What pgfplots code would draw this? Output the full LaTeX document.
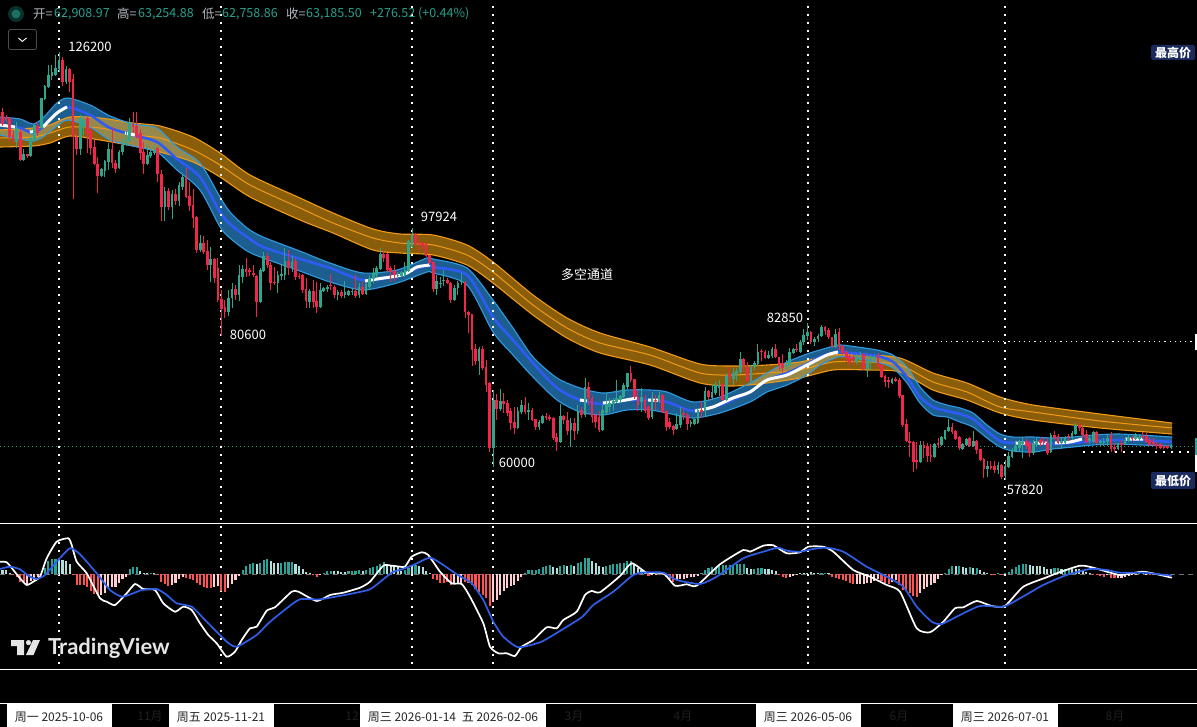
\documentclass[border=0pt]{standalone}
\usepackage{pgfplots}
\pgfplotsset{compat=1.18}
\usepackage{pgfplotstable}
\usepackage{fontspec}
\setmainfont{Noto Sans CJK SC}
\newfontfamily\wm{Lato}
\definecolor{cG}{HTML}{2FA58C}
\definecolor{cR}{HTML}{F0264A}
\definecolor{hG}{HTML}{26A69A}
\definecolor{hL}{HTML}{B2DFDB}
\definecolor{hR}{HTML}{FF5252}
\definecolor{hP}{HTML}{FFCDD2}
\definecolor{gold}{HTML}{FDAB14}
\definecolor{goldline}{HTML}{F09A18}
\definecolor{bluefill}{HTML}{1C5E8F}
\definecolor{blueedge}{HTML}{2E9BE0}
\definecolor{bluemid}{HTML}{2F5BF5}
\definecolor{macdblue}{HTML}{2F5FE8}
\definecolor{navy}{HTML}{1A2A5E}
\definecolor{lab}{HTML}{B2B5BE}
\definecolor{val}{HTML}{26A08E}
\definecolor{dk}{HTML}{202020}

\pgfplotstableread[row sep=\\]{
x t m b\\
0 117 125 135\\ 20 119 128 139\\ 33 124 133 141\\ 43 118 127 137\\ 57 103 113 126\\ 68 98 107 120\\
90 105 115 127\\ 110 116 128 140\\ 133 124 135 146\\ 157 128 142 152\\ 177 147 159 170\\ 200 163 177 190\\
220 197 212 227\\ 230 212 224 238\\ 247 228 237 251\\ 263 237 247 258\\ 297 250 258 270\\ 330 263 268 282\\
363 273 280 290\\ 397 270 276 283\\ 427 258 265 272\\ 433 259 267 273\\ 467 268 275 285\\ 493 300 317 332\\
513 328 340 355\\ 533 357 363 377\\ 557 378 388 400\\ 580 388 400 412\\ 603 393 404 415\\ 627 390 400 410\\
650 390 400 410\\ 667 392 402 413\\ 693 402 411 418\\ 720 397 405 413\\ 750 383 392 402\\ 767 373 380 392\\
787 362 373 385\\ 807 354 364 375\\ 820 350 357 365\\ 838 345 352 357\\ 850 346 353 357\\ 877 350 356 362\\
893 355 362 368\\ 907 367 377 383\\ 920 387 397 403\\ 933 400 407 415\\ 947 405 411 417\\ 960 408 414 422\\
973 413 419 427\\ 987 425 431 438\\ 1000 434 441 447\\ 1013 437 443 451\\ 1033 437 443 452\\ 1053 438 444 449\\
1073 437 443 447\\ 1093 435 441 445\\ 1117 434 440 444\\ 1140 435 440 445\\ 1172 437 442 446\\
}\blueband

\pgfplotstableread[row sep=\\]{
x t m b\\
0 130 138 147\\ 33 128 137 146\\ 50 125 133 143\\ 70 117 127 136\\ 100 118 128 140\\ 133 123 135 146\\
160 126 138 152\\ 193 137 150 162\\ 220 153 165 177\\ 250 175 185 197\\ 300 198 208 220\\ 333 213 223 233\\
373 229 238 250\\ 400 234 243 253\\ 433 235 245 255\\ 467 245 255 265\\ 493 262 272 283\\ 533 295 305 315\\
567 318 328 338\\ 600 333 343 353\\ 650 347 355 365\\ 700 364 373 383\\ 733 366 375 386\\ 767 365 373 383\\
800 362 370 378\\ 833 355 362 370\\ 867 355 362 370\\ 900 358 365 372\\ 933 373 382 390\\ 967 383 392 400\\
1000 397 407 413\\ 1033 405 412 420\\ 1100 414 421 428\\ 1172 423 428 434\\
}\goldband

% candles: i = days from 2025-10-06; h,t,b,l = wick top, body top, body bottom, wick low
\pgfplotstableread[row sep=\\]{
i h t b l\\
-12 122 128 142 148\\ -10 149 154 160 161\\ -8 137 138 156 157\\ -7 124 125 141 142\\ -5 98 98 128 130\\
-4 85 86 99 100\\ -3 65 75 87 88\\ -2 65 72 76 80\\ -1 55 68 75 76\\ 0 52 60 69 72\\ 2 66 69 82 84\\
6 115 118 149 155\\ 7 116 120 127 135\\ 12 168 169 176 177\\ 13 160 161 171 177\\ 14 143 149 162 170\\
17 150 152 168 169\\ 18 139 145 152 155\\ 19 130 138 145 146\\ 20 118 123 141 142\\ 25 145 155 164 165\\
26 150 152 156 158\\ 27 145 150 153 155\\ 30 187 191 207 221\\ 32 190 194 207 219\\ 34 182 185 201 206\\
35 174 177 187 190\\ 40 235 243 250 252\\ 43 247 259 265 282\\ 48 290 298 312 316\\ 49 283 289 298 308\\
51 265 275 295 301\\ 52 265 269 277 283\\ 57 268 270 302 303\\ 58 252 256 271 272\\ 62 271 275 283 293\\
63 264 274 276 280\\ 64 248 261 275 280\\ 66 256 262 267 272\\ 71 289 291 302 308\\ 74 283 290 307 308\\
75 287 288 291 292\\ 76 285 287 289 292\\ 79 290 292 295 300\\ 81 281 292 295 298\\ 82 290 291 295 296\\
83 289 291 292 295\\ 85 283 287 295 298\\ 87 283 284 294 295\\ 88 275 278 287 290\\ 89 268 273 279 283\\
90 266 268 275 277\\ 91 248 254 269 270\\ 96 272 275 276 277\\ 97 271 272 276 277\\ 98 262 270 275 277\\
99 240 241 271 272\\ 100 228 234 247 248\\ 107 275 281 289 295\\ 108 277 283 284 288\\ 109 270 280 281 286\\
112 285 288 300 301\\ 113 281 283 288 295\\ 114 273 281 282 285\\ 119 347 349 361 375\\ 123 390 400 448 467\\
125 389 401 409 411\\ 130 407 411 428 429\\ 131 400 405 412 414\\ 133 403 410 411 420\\ 136 420 422 427 430\\
137 415 416 423 424\\ 142 404 416 442 443\\ 145 418 423 430 447\\ 147 405 412 431 434\\ 149 378 387 415 417\\
154 405 410 430 431\\ 155 393 404 413 415\\ 156 398 403 407 412\\ 157 398 401 404 411\\ 158 380 398 402 403\\
159 395 396 400 403\\ 160 383 385 397 398\\ 161 373 373 387 389\\ 165 388 397 402 412\\ 168 392 398 417 419\\
170 392 395 401 403\\ 175 413 424 429 430\\ 176 407 415 425 428\\ 179 420 422 424 427\\ 180 418 419 424 425\\
181 408 410 423 424\\ 183 387 391 411 417\\ 185 384 392 398 400\\ 186 382 385 393 395\\ 187 380 385 388 396\\
189 373 376 400 401\\ 191 368 373 379 385\\ 192 368 371 374 381\\ 193 352 359 372 374\\ 196 365 367 381 382\\
197 361 363 367 370\\ 198 344 352 364 366\\ 201 351 355 358 359\\ 202 347 349 356 358\\ 206 360 364 367 370\\
207 348 352 365 366\\ 208 348 349 353 354\\ 210 340 342 352 353\\ 211 329 335 342 345\\ 212 323 332 336 340\\
214 337 339 342 346\\ 215 334 336 339 342\\ 216 325 327 336 337\\ 220 329 334 347 348\\ 226 354 356 362 364\\
227 352 357 360 362\\ 229 355 359 369 377\\ 230 355 358 360 370\\ 231 355 357 359 363\\ 236 378 379 383 384\\
244 441 445 462 463\\ 248 443 444 457 458\\ 250 436 437 445 446\\ 251 430 430 439 440\\ 252 419 427 431 432\\
256 443 444 449 450\\ 257 438 439 445 446\\ 259 431 441 446 447\\ 263 461 466 469 477\\ 266 462 465 470 474\\
268 460 466 476 480\\ 269 452 456 467 468\\ 270 448 450 457 458\\ 271 442 446 451 452\\ 272 440 442 448 452\\
273 437 442 444 458\\ 276 440 443 453 455\\ 277 438 441 445 447\\ 281 433 435 452 453\\ 284 438 441 442 449\\
285 436 437 443 444\\ 287 431 433 438 440\\ 288 423 425 434 435\\ 292 435 438 441 444\\ 293 431 432 442 443\\
295 440 441 443 447\\ 296 438 441 443 446\\ 297 435 438 442 446\\ 300 443 444 449 450\\ 302 438 440 444 445\\
303 435 437 441 442\\ 305 433 434 439 440\\ 306 434 437 438 441\\ 315 444 446 448 449\\
}\candUp

\pgfplotstableread[row sep=\\]{
i h t b l\\
-16 108 112 124 126\\ -15 115 117 120 122\\ -14 117 118 137 141\\ -13 130 135 140 144\\ -11 129 132 160 161\\
-9 154 154 156 158\\ -6 122 126 133 136\\ 1 57 60 82 86\\ 3 68 69 82 92\\ 4 74 79 137 199\\ 5 130 137 149 155\\
8 117 118 133 153\\ 9 128 131 148 155\\ 10 140 147 164 165\\ 11 157 164 176 193\\ 15 127 149 163 168\\
16 160 163 169 173\\ 21 112 124 127 133\\ 22 112 126 137 138\\ 23 129 133 153 160\\ 24 142 152 164 174\\
28 147 148 174 182\\ 29 170 174 207 221\\ 31 188 191 207 210\\ 33 189 194 201 205\\ 36 168 177 197 198\\
37 182 196 206 211\\ 38 189 205 218 228\\ 39 216 217 250 253\\ 41 236 243 252 254\\ 42 240 251 265 270\\
44 258 259 278 283\\ 45 258 268 300 302\\ 46 290 299 309 336\\ 47 300 307 312 318\\ 50 285 289 295 300\\
53 258 269 272 277\\ 54 268 270 272 276\\ 55 265 273 275 277\\ 56 275 276 302 317\\ 59 253 256 265 268\\
60 262 265 283 290\\ 61 267 282 283 285\\ 65 250 261 268 275\\ 67 258 261 277 280\\ 68 273 276 277 279\\
69 274 275 290 293\\ 70 278 289 301 308\\ 72 280 291 302 308\\ 73 282 301 307 313\\ 77 274 285 286 290\\
78 285 287 295 298\\ 80 290 292 296 298\\ 84 275 291 296 298\\ 86 282 287 294 295\\ 92 250 254 258 262\\
93 253 254 270 272\\ 94 266 268 272 282\\ 95 265 271 275 281\\ 101 233 234 244 246\\ 102 241 243 244 252\\
103 242 243 246 250\\ 104 243 243 256 257\\ 105 255 255 263 265\\ 106 261 262 289 292\\ 110 278 280 283 284\\
111 282 283 300 303\\ 115 281 282 312 318\\ 116 311 312 315 333\\ 117 314 314 350 366\\ 118 344 349 361 365\\
120 346 349 368 370\\ 121 360 367 385 392\\ 122 382 383 448 452\\ 124 394 400 409 420\\ 126 393 401 404 413\\
127 400 403 413 416\\ 128 408 411 423 430\\ 129 407 422 428 434\\ 132 397 405 412 414\\ 134 408 410 420 421\\
135 419 419 427 430\\ 138 413 416 417 420\\ 139 415 417 419 421\\ 140 417 418 438 440\\ 141 433 437 442 451\\
143 415 416 420 424\\ 144 412 420 431 435\\ 146 418 423 431 440\\ 148 407 410 415 418\\ 150 382 387 398 405\\
151 396 398 417 423\\ 152 414 415 422 428\\ 153 411 417 430 432\\ 162 366 373 380 382\\ 163 379 379 397 399\\
164 390 397 405 411\\ 166 395 400 411 413\\ 167 405 407 418 420\\ 169 395 400 401 410\\ 171 394 395 412 413\\
172 410 411 427 431\\ 173 418 422 427 429\\ 174 425 426 430 435\\ 177 408 413 414 420\\ 178 413 415 424 430\\
182 401 410 412 418\\ 184 390 391 397 400\\ 188 383 384 400 401\\ 190 367 374 377 382\\ 194 358 359 365 372\\
195 362 367 381 382\\ 199 349 351 352 361\\ 200 350 352 358 359\\ 203 344 349 357 358\\ 204 357 357 365 370\\
205 354 363 368 372\\ 209 344 349 350 352\\ 213 331 332 342 344\\ 217 326 327 331 335\\ 218 328 330 337 339\\
219 337 337 347 348\\ 221 328 332 347 350\\ 222 345 346 353 355\\ 223 350 352 358 362\\ 224 354 356 362 365\\
225 355 357 359 365\\ 228 353 354 369 370\\ 232 353 355 367 368\\ 233 364 365 377 378\\ 234 375 376 382 387\\
235 377 380 381 388\\ 237 377 379 381 382\\ 238 378 380 396 398\\ 239 395 395 425 427\\ 240 419 424 441 442\\
241 432 441 443 457\\ 242 441 442 462 472\\ 243 442 460 462 469\\ 245 441 445 448 458\\ 246 443 446 456 462\\
247 444 455 457 462\\ 249 438 443 445 448\\ 253 423 427 432 434\\ 254 430 431 439 440\\ 255 436 437 448 450\\
258 437 438 446 447\\ 260 440 441 450 454\\ 261 449 449 460 461\\ 262 458 459 469 478\\ 264 461 466 467 470\\
265 461 466 470 473\\ 267 464 465 477 479\\ 274 439 441 446 449\\ 275 441 443 453 457\\ 278 437 440 443 446\\
279 438 441 443 445\\ 280 438 443 453 455\\ 282 431 435 438 440\\ 283 434 436 443 444\\ 286 434 436 437 441\\
289 422 425 428 431\\ 290 427 428 435 438\\ 291 430 434 442 444\\ 294 431 432 443 444\\ 298 432 435 449 452\\
299 443 447 448 452\\ 301 440 443 444 452\\ 304 436 437 439 441\\ 307 432 436 437 439\\ 308 433 436 442 443\\
309 438 440 445 446\\ 310 438 442 444 446\\ 311 442 444 446 449\\ 312 443 444 448 449\\ 313 445 446 447 449\\
314 445 446 448 449\\
}\candDown

\begin{document}
\begin{tikzpicture}
\fill[black] (0,0) rectangle (1197pt,727pt);
\useasboundingbox (0,0) rectangle (1197pt,727pt);
\begin{axis}[
  at={(0pt,0pt)},anchor=south west,
  width=1197pt,height=727pt,scale only axis,
  xmin=0,xmax=1197,ymin=0,ymax=727,y dir=reverse,
  ticks=none,axis line style={draw=none},
  unbounded coords=jump,
  cycle list={{black}},
  every axis plot/.append style={forget plot},
  wk/.style={draw=none,mark=none,error bars/.cd,y dir=both,y explicit,error mark=none,
     error bar style={solid,line width=0.9pt,draw=#1}},
  bd/.style={draw=none,mark=none,error bars/.cd,y dir=both,y explicit,error mark=none,
     error bar style={solid,line width=2.7pt,draw=#1}},
  sm/.style={smooth,tension=0.45},
]
% horizontal guide lines
\addplot[draw=val,line width=0.7pt,dash pattern=on 1pt off 3pt] coordinates {(0,446)(1197,446)};
\addplot[draw=white,line width=0.8pt] coordinates {(0,523)(1197,523)};
\addplot[draw=white,line width=0.8pt] coordinates {(0,669)(1197,669)};
% bands
\addplot[sm,fill=bluefill,draw=none] coordinates {
(0,117)(20,119)(33,124)(43,118)(57,103)(68,98)(90,105)(110,116)(133,124)(157,128)(177,147)(200,163)(220,197)(230,212)(247,228)(263,237)(297,250)(330,263)(363,273)(397,270)(427,258)(433,259)(467,268)(493,300)(513,328)(533,357)(557,378)(580,388)(603,393)(627,390)(650,390)(667,392)(693,402)(720,397)(750,383)(767,373)(787,362)(807,354)(820,350)(838,345)(850,346)(877,350)(893,355)(907,367)(920,387)(933,400)(947,405)(960,408)(973,413)(987,425)(1000,434)(1013,437)(1033,437)(1053,438)(1073,437)(1093,435)(1117,434)(1140,435)(1172,437)(1172,437)(1172,437)
(1172,446)(1172,446)(1172,446)(1140,445)(1117,444)(1093,445)(1073,447)(1053,449)(1033,452)(1013,451)(1000,447)(987,438)(973,427)(960,422)(947,417)(933,415)(920,403)(907,383)(893,368)(877,362)(850,357)(838,357)(820,365)(807,375)(787,385)(767,392)(750,402)(720,413)(693,418)(667,413)(650,410)(627,410)(603,415)(580,412)(557,400)(533,377)(513,355)(493,332)(467,285)(433,273)(427,272)(397,283)(363,290)(330,282)(297,270)(263,258)(247,251)(230,238)(220,227)(200,190)(177,170)(157,152)(133,146)(110,140)(90,127)(68,120)(57,126)(43,137)(33,141)(20,139)(0,135)} -- cycle;
\addplot[sm,fill=gold,fill opacity=0.55,draw=none] coordinates {
(0,130)(33,128)(50,125)(70,117)(100,118)(133,123)(160,126)(193,137)(220,153)(250,175)(300,198)(333,213)(373,229)(400,234)(433,235)(467,245)(493,262)(533,295)(567,318)(600,333)(650,347)(700,364)(733,366)(767,365)(800,362)(833,355)(867,355)(900,358)(933,373)(967,383)(1000,397)(1033,405)(1100,414)(1172,423)(1172,423)(1172,423)
(1172,434)(1172,434)(1172,434)(1100,428)(1033,420)(1000,413)(967,400)(933,390)(900,372)(867,370)(833,370)(800,378)(767,383)(733,386)(700,383)(650,365)(600,353)(567,338)(533,315)(493,283)(467,265)(433,255)(400,253)(373,250)(333,233)(300,220)(250,197)(220,177)(193,162)(160,152)(133,146)(100,140)(70,136)(50,143)(33,146)(0,147)} -- cycle;
\addplot[sm,draw=goldline,line width=1.1pt] table[x=x,y=t]{\goldband};
\addplot[sm,draw=goldline,line width=1pt] table[x=x,y=m]{\goldband};
\addplot[sm,draw=goldline,line width=1.1pt] table[x=x,y=b]{\goldband};
\addplot[sm,draw=blueedge,line width=1.1pt] table[x=x,y=t]{\blueband};
\addplot[sm,draw=blueedge,line width=1.1pt] table[x=x,y=b]{\blueband};
\addplot[sm,draw=bluemid,line width=2.6pt] table[x=x,y=m]{\blueband};
\addplot[sm,draw=white,line width=3pt] coordinates {
 (0,125)(15,127)(15,nan)
 (30,132)(38,131)(38,nan)
 (43,127)(57,113)(67,107)(67,nan)
 (125,133)(135,135)(135,nan)
 (365,281)(377,279)(397,276)(407,273)(417,267)(430,265)(430,nan)
 (580,400)(587,401)(587,nan)
 (603,403)(620,401)(637,398)(637,nan)
 (648,400)(658,400)(658,nan)
 (695,411)(713,407)(733,398)(750,392)(767,380)(787,375)(807,365)(827,355)(838,352)(838,nan)
 (1015,443)(1025,443)(1025,nan)
 (1033,443)(1047,443)(1047,nan)
 (1055,443)(1070,442)(1082,439)(1082,nan)
 (1125,439)(1143,439)
};
% vertical dotted date lines
\addplot[draw=white,line width=1.8pt,dash pattern=on 2pt off 6pt] coordinates {(59,6)(59,669)};
\addplot[draw=white,line width=1.8pt,dash pattern=on 2pt off 6pt] coordinates {(221,6)(221,669)};
\addplot[draw=white,line width=1.8pt,dash pattern=on 2pt off 6pt] coordinates {(412,6)(412,669)};
\addplot[draw=white,line width=1.8pt,dash pattern=on 2pt off 6pt] coordinates {(493,6)(493,669)};
\addplot[draw=white,line width=1.8pt,dash pattern=on 2pt off 6pt] coordinates {(808,6)(808,669)};
\addplot[draw=white,line width=1.8pt,dash pattern=on 2pt off 6pt] coordinates {(1005,6)(1005,669)};
\addplot[draw=white,line width=1pt,dash pattern=on 1.2pt off 4pt] coordinates {(842,342)(1197,342)};
\addplot[draw=white,line width=1.8pt,dash pattern=on 2pt off 6pt] coordinates {(1083,452)(1192,452)};
% candles
\addplot[wk=cG] table[x expr=59+3.53*\thisrow{i},y expr=(\thisrow{h}+\thisrow{l})/2,y error expr=(\thisrow{l}-\thisrow{h})/2]{\candUp};
\addplot[wk=cR] table[x expr=59+3.53*\thisrow{i},y expr=(\thisrow{h}+\thisrow{l})/2,y error expr=(\thisrow{l}-\thisrow{h})/2]{\candDown};
\addplot[bd=cG] table[x expr=59+3.53*\thisrow{i},y expr=(\thisrow{t}+\thisrow{b})/2,y error expr=(\thisrow{b}-\thisrow{t})/2]{\candUp};
\addplot[bd=cR] table[x expr=59+3.53*\thisrow{i},y expr=(\thisrow{t}+\thisrow{b})/2,y error expr=(\thisrow{b}-\thisrow{t})/2]{\candDown};

% annotations
\def\lbl#1#2#3{\node[text=white,font=\fontsize{13}{15}\selectfont,inner sep=0pt] at (axis cs:#1,#2) {#3};}
\lbl{90}{47}{126200}
\lbl{248}{335}{80600}
\lbl{439}{217}{97924}
\lbl{517}{463}{60000}
\lbl{785}{318}{82850}
\lbl{1025}{490}{57820}
\lbl{587}{275}{多空通道}
\fill[navy,rounded corners=2pt] (axis cs:1151,45) rectangle (axis cs:1195,60);
\node[text=white,font=\fontsize{12}{14}\selectfont\bfseries,inner sep=0pt] at (axis cs:1173,52.5) {最高价};
\fill[navy,rounded corners=2pt] (axis cs:1151,472) rectangle (axis cs:1195,489);
\node[text=white,font=\fontsize{12}{14}\selectfont\bfseries,inner sep=0pt] at (axis cs:1173,480.5) {最低价};
\fill[white] (axis cs:1195,334) rectangle (axis cs:1197,350);
\fill[hG] (axis cs:1195,438) rectangle (axis cs:1197,455);
\fill[white] (axis cs:1195,455) rectangle (axis cs:1197,472);

% header
\fill[black!70!val] (axis cs:16,14) circle[radius=8pt];
\fill[val!70!black] (axis cs:16,14) circle[radius=4.5pt];
\def\hd#1#2#3{\node[anchor=west,text=#3,font=\fontsize{12.5}{15}\selectfont,inner sep=0pt] at (axis cs:#1,14) {#2};}
\hd{33}{开=}{lab}\hd{54}{62,908.97}{val}
\hd{117}{高=}{lab}\hd{138}{63,254.88}{val}
\hd{202}{低=}{lab}\hd{222}{62,758.86}{val}
\hd{286}{收=}{lab}\hd{306}{63,185.50}{val}
\hd{370}{+276.52 (+0.44\%)}{val}
\draw[black!70!white,rounded corners=2pt,line width=0.8pt] (axis cs:8.5,29.5) rectangle (axis cs:36.5,49.5);
\draw[white,line width=0.9pt] (axis cs:18.5,38) -- (axis cs:22.3,41.5) -- (axis cs:26.5,38);

% time axis
\node[text=dk,font=\fontsize{12}{14}\selectfont,inner sep=0pt] at (axis cs:150,716) {11月};
\node[anchor=east,text=dk,font=\fontsize{12}{14}\selectfont,inner sep=0pt] at (axis cs:359,716) {12};
\node[text=dk,font=\fontsize{12}{14}\selectfont,inner sep=0pt] at (axis cs:574,716) {3月};
\node[text=dk,font=\fontsize{12}{14}\selectfont,inner sep=0pt] at (axis cs:683,716) {4月};
\node[text=dk,font=\fontsize{12}{14}\selectfont,inner sep=0pt] at (axis cs:899,716) {6月};
\node[text=dk,font=\fontsize{12}{14}\selectfont,inner sep=0pt] at (axis cs:1115,716) {8月};
\addplot[draw=white,line width=0.8pt] coordinates {(0,703)(1197,703)};
\fill[white] (axis cs:7,703) rectangle (axis cs:112,727);
\fill[white] (axis cs:169,703) rectangle (axis cs:274,727);
\fill[white] (axis cs:360,703) rectangle (axis cs:546,727);
\fill[white] (axis cs:756,703) rectangle (axis cs:861,727);
\fill[white] (axis cs:953,703) rectangle (axis cs:1058,727);
\def\tl#1#2{\node[text=black!85,font=\fontsize{12}{14}\selectfont,inner sep=0pt] at (axis cs:#1,717) {#2};}
\tl{59}{周一 2025-10-06}
\tl{221}{周五 2025-11-21}
\tl{412}{周三 2026-01-14}
\tl{500}{五 2026-02-06}
\tl{808}{周三 2026-05-06}
\tl{1005}{周三 2026-07-01}

% watermark
\fill[white!90!black] (axis cs:11,640)--(axis cs:24,640)--(axis cs:24,655)--(axis cs:17,655)--(axis cs:17,646)--(axis cs:11,646)--cycle;
\fill[white!90!black] (axis cs:28.5,642.6) circle[radius=2.6pt];
\fill[white!90!black] (axis cs:33,640)--(axis cs:40,640)--(axis cs:33.5,655)--(axis cs:26,655)--cycle;
\node[anchor=west,text=white!90!black,font=\wm\bfseries\fontsize{22}{26}\selectfont,inner sep=0pt] at (axis cs:48,648) {TradingView};
\end{axis}

% MACD pane: y is the distance from the zero line
\begin{axis}[
  at={(0pt,58pt)},anchor=south west,
  width=1197pt,height=145pt,scale only axis,
  xmin=0,xmax=1197,ymin=-95,ymax=50,
  ticks=none,axis line style={draw=none},
  every axis plot/.append style={forget plot},
  cycle list={{black}},
  hst/.style={ycomb,line width=2.1pt,color=#1,mark=none,x filter/.expression={59+3.53*x}},
  sm/.style={smooth,tension=0.35},
]
\addplot[draw=black!55,line width=0.8pt,dash pattern=on 5pt off 4pt] coordinates {(0,0)(1197,0)};
\addplot[hst=hG] coordinates {(-4,6)(-3,13)(-2,15)(-1,15)(20,5)(21,7)(22,7)(26,1)
 (52,4)(53,8)(54,10)(55,11)(57,11)(58,14)(59,15)(63,11)(64,12)(65,12)(66,12)(75,1)(76,3)(77,3)(82,3)(83,3)(84,3)(85,4)(87,4)(88,6)(89,7)(90,8)(91,10)(92,12)
 (98,4)(99,6)(101,9)(132,1)(133,4)(134,4)(135,4)(136,5)(137,7)(138,8)(139,9)(142,8)(143,9)(145,9)(147,11)(148,12)(149,16)(150,16)
 (155,8)(156,9)(157,10)(158,10)(159,11)(160,11)(161,13)(162,13)(170,1)(182,1)(183,4)(184,6)(185,7)(186,7)(187,8)(188,9)(189,9)(190,9)(191,9)(192,10)(193,10)(194,10)(197,5)(198,6)(199,6)
 (216,1)(217,1)(251,1)(252,5)(253,8)(255,8)(258,7)(260,6)(266,0.5)(268,1)(269,2)(270,5)(271,7)(272,9)(273,10)(274,10)(282,6)(283,6)(285,5)(286,5)(306,0.5)(307,0.5)};
\addplot[hst=hL] coordinates {(-16,4)(-15,4)(-14,1)(0,15)(1,14)(2,13)(3,10)(23,3)(24,1)(25,1)(27,1)
 (56,10)(60,13)(61,11)(62,11)(67,10)(68,8)(69,5)(70,2)(71,1)(78,3)(79,3)(80,2)(81,2)(86,3)(93,10)(94,9)(95,8)(96,7)(97,3)
 (100,7)(102,8)(103,7)(104,3)(105,1)(140,7)(141,6)(144,8)(146,8)(151,13)(152,11)(153,8)(154,7)(163,9)(164,6)(165,4)(166,2)
 (195,6)(196,5)(200,5)(201,5)(202,4)(203,3)(210,1)(211,1)(212,1)(213,2)(214,1)(215,1)(218,0.5)
 (254,8)(256,7)(257,6)(259,6)(261,4)(262,2)(263,1)(275,9)(276,8)(277,8)(278,8)(279,7)(280,5)(281,5)(284,5)(287,5)(288,5)(289,5)(290,3)(291,2)(292,1)};
\addplot[hst=hR] coordinates {(-13,-1)(-12,-3)(-11,-8)(-10,-8)(5,-11)(6,-11)(7,-11)(8,-13)(9,-17)(10,-20)(11,-20)(4,-1)(28,-1)
 (29,-8)(30,-10)(31,-12)(36,-4)(37,-5)(38,-6)(39,-9)(40,-11)(41,-13)(42,-14)(43,-14)(46,-17)(47,-18)(72,-1)(73,-3)
 (106,-5)(107,-6)(108,-9)(109,-9)(110,-8)(111,-11)(115,-8)(116,-9)(117,-11)(118,-15)(119,-18)(120,-21)(121,-24)(122,-32)
 (167,-2)(171,-1)(172,-3)(173,-5)(174,-8)(204,-1)(205,-3)(206,-4)(219,-3)(220,-4)(221,-5)(222,-6)(223,-7)(224,-9)(225,-10)
 (233,-7)(234,-9)(235,-10)(238,-11)(239,-16)(240,-17)(241,-19)(242,-22)(243,-23)(264,-0.5)(265,-1)(267,-1)(293,-1)(294,-1)(295,-2)(296,-3)(298,-4)(299,-4)(309,-1)(310,-1)(311,-1)(312,-1)(313,-1)(314,-1)};
\addplot[hst=hP] coordinates {(-9,-10)(-8,-7)(-7,-6)(-6,-3)(-5,-1)(12,-21)(13,-19)(14,-14)(15,-13)(16,-13)(17,-9)(18,-5)(19,-3)
 (32,-11)(33,-9)(34,-5)(35,-3)(44,-13)(45,-12)(48,-14)(49,-10)(50,-6)(51,-2)(74,-1)
 (112,-10)(113,-9)(114,-9)(123,-28)(124,-26)(125,-21)(126,-17)(127,-14)(128,-12)(129,-11)(130,-7)(131,-3)
 (168,-1)(169,-1)(175,-7)(176,-5)(177,-5)(178,-4)(179,-3)(180,-3)(181,-2)(207,-3)(208,-2)(209,-1)
 (226,-10)(227,-10)(228,-10)(229,-9)(230,-9)(231,-7)(232,-5)(236,-8)(237,-6)(244,-19)(245,-15)(246,-13)(247,-11)(248,-9)(249,-5)(250,-1)
 (297,-1)(300,-4)(301,-4)(302,-3)(303,-2)(304,-1)(305,-1)(308,-0.5)};
\addplot[sm,draw=white,line width=1.7pt] coordinates {
(0,12.3)(6.7,11.7)(13.3,4)(20,-4.3)(26.7,-11)(33.3,-7.7)(40,-2.7)(46.7,15.7)(56.7,32.3)(68.3,35.7)(71.7,29)(76.7,12.3)(86.7,.7)(100,-24.3)(106.7,-27.7)(115,-31)(126.7,-19.3)(135,-10)(143.3,-15)(155,-16)(163.3,-29.3)(175,-37.7)(183.3,-32.7)(191.7,-36)(200,-49.3)(208.3,-61)(216.7,-69.3)(226.7,-82.7)(235,-77.7)(241.7,-66)(250,-54.3)(256.7,-52.7)(266.7,-36.7)(275,-33.3)(291.7,-17.7)(298.3,-17.7)(316.7,-27)(330,-21)(343.3,-18.7)(360,-13.7)(370,-7.7)(383.3,8.3)(391.7,8.3)(400,7.3)
(405,7.3)(411.7,17.3)(421.7,21.7)(428.3,19)(440,2.3)(451.7,-9.3)(461.7,-10)(470,-22.7)(483.3,-49.3)(490,-72.7)(498.3,-79.3)(506.7,-79.3)(515,-82)(521.7,-72.7)(533.3,-66)(546.7,-53.3)(556.7,-54.3)(563.3,-46)(576.7,-37.7)(585,-21)(591.7,-17)(600,-18.3)(620,-2)(631.7,10.7)(646.7,1.3)(663.3,.7)(675,-11.7)(686.7,-10.3)(696.7,-11.7)(720,9.7)(743.3,24)(750,22.3)(763.3,28.3)(773.3,28.7)(786.7,20.7)(800,21.7)
(808.3,27.3)(823.3,27.3)(833.3,22.3)(853.3,4)(870,-2.7)(886.7,-11)(900,-17.7)(916.7,-54.3)(930,-58.3)(943.3,-47.7)(955,-34.3)(963.3,-33.3)(976.7,-27)(991.7,-32)(1005,-32)(1023.3,-12.7)(1046.7,-3.3)(1056.7,.7)(1080,8.3)(1093.3,6.3)(1120,-1)(1143.3,2.3)(1171.7,-3.7)};
\addplot[sm,draw=macdblue,line width=1.7pt] coordinates {
(0,5)(10,7.3)(20,4.7)(28.3,-1.7)(36.7,-5)(45,-1)(56.7,12.3)(70,25.7)(80,19.7)(96.7,.7)(110,-16)(121.7,-22.7)(133.3,-19.3)(141.7,-16)(156.7,-15)(166.7,-21)(176.7,-29.3)(191.7,-32.7)(206.7,-47.7)(226.7,-67.7)(236.7,-72.7)(256.7,-61)(268.3,-49.3)(286.7,-34.3)(300,-25.3)(320,-25.3)(350,-20)(370,-15.3)(383.3,-5.3)(393.3,2.3)
(400,4)(413.3,9)(430,16.3)(443.3,9)(456.7,-.3)(471.7,-9.3)(483.3,-26)(493.3,-47.7)(503.3,-62.7)(518.3,-73.3)(540,-68.3)(553.3,-61)(581.7,-43.3)(593.3,-31)(613.3,-17.7)(633.3,-1)(646.7,1.7)(663.3,1.3)(676.7,-6)(700,-10)(716.7,-2.7)(743.3,15.7)(763.3,22.3)(778.3,26.3)(786.7,23.3)(800,22.3)
(813.3,25)(826.7,26.3)(843.3,22.3)(866.7,7.3)(886.7,-2.7)(903.3,-12.7)(916.7,-32.7)(931.7,-47.7)(941.7,-50)(960,-41)(980,-32)(1003.3,-32.7)(1020,-24.3)(1043.3,-11)(1066.7,-1)(1090,5)(1106.7,4)(1120,1.3)(1143.3,1.3)(1171.7,-1.7)};
\end{axis}
\end{tikzpicture}
\end{document}
